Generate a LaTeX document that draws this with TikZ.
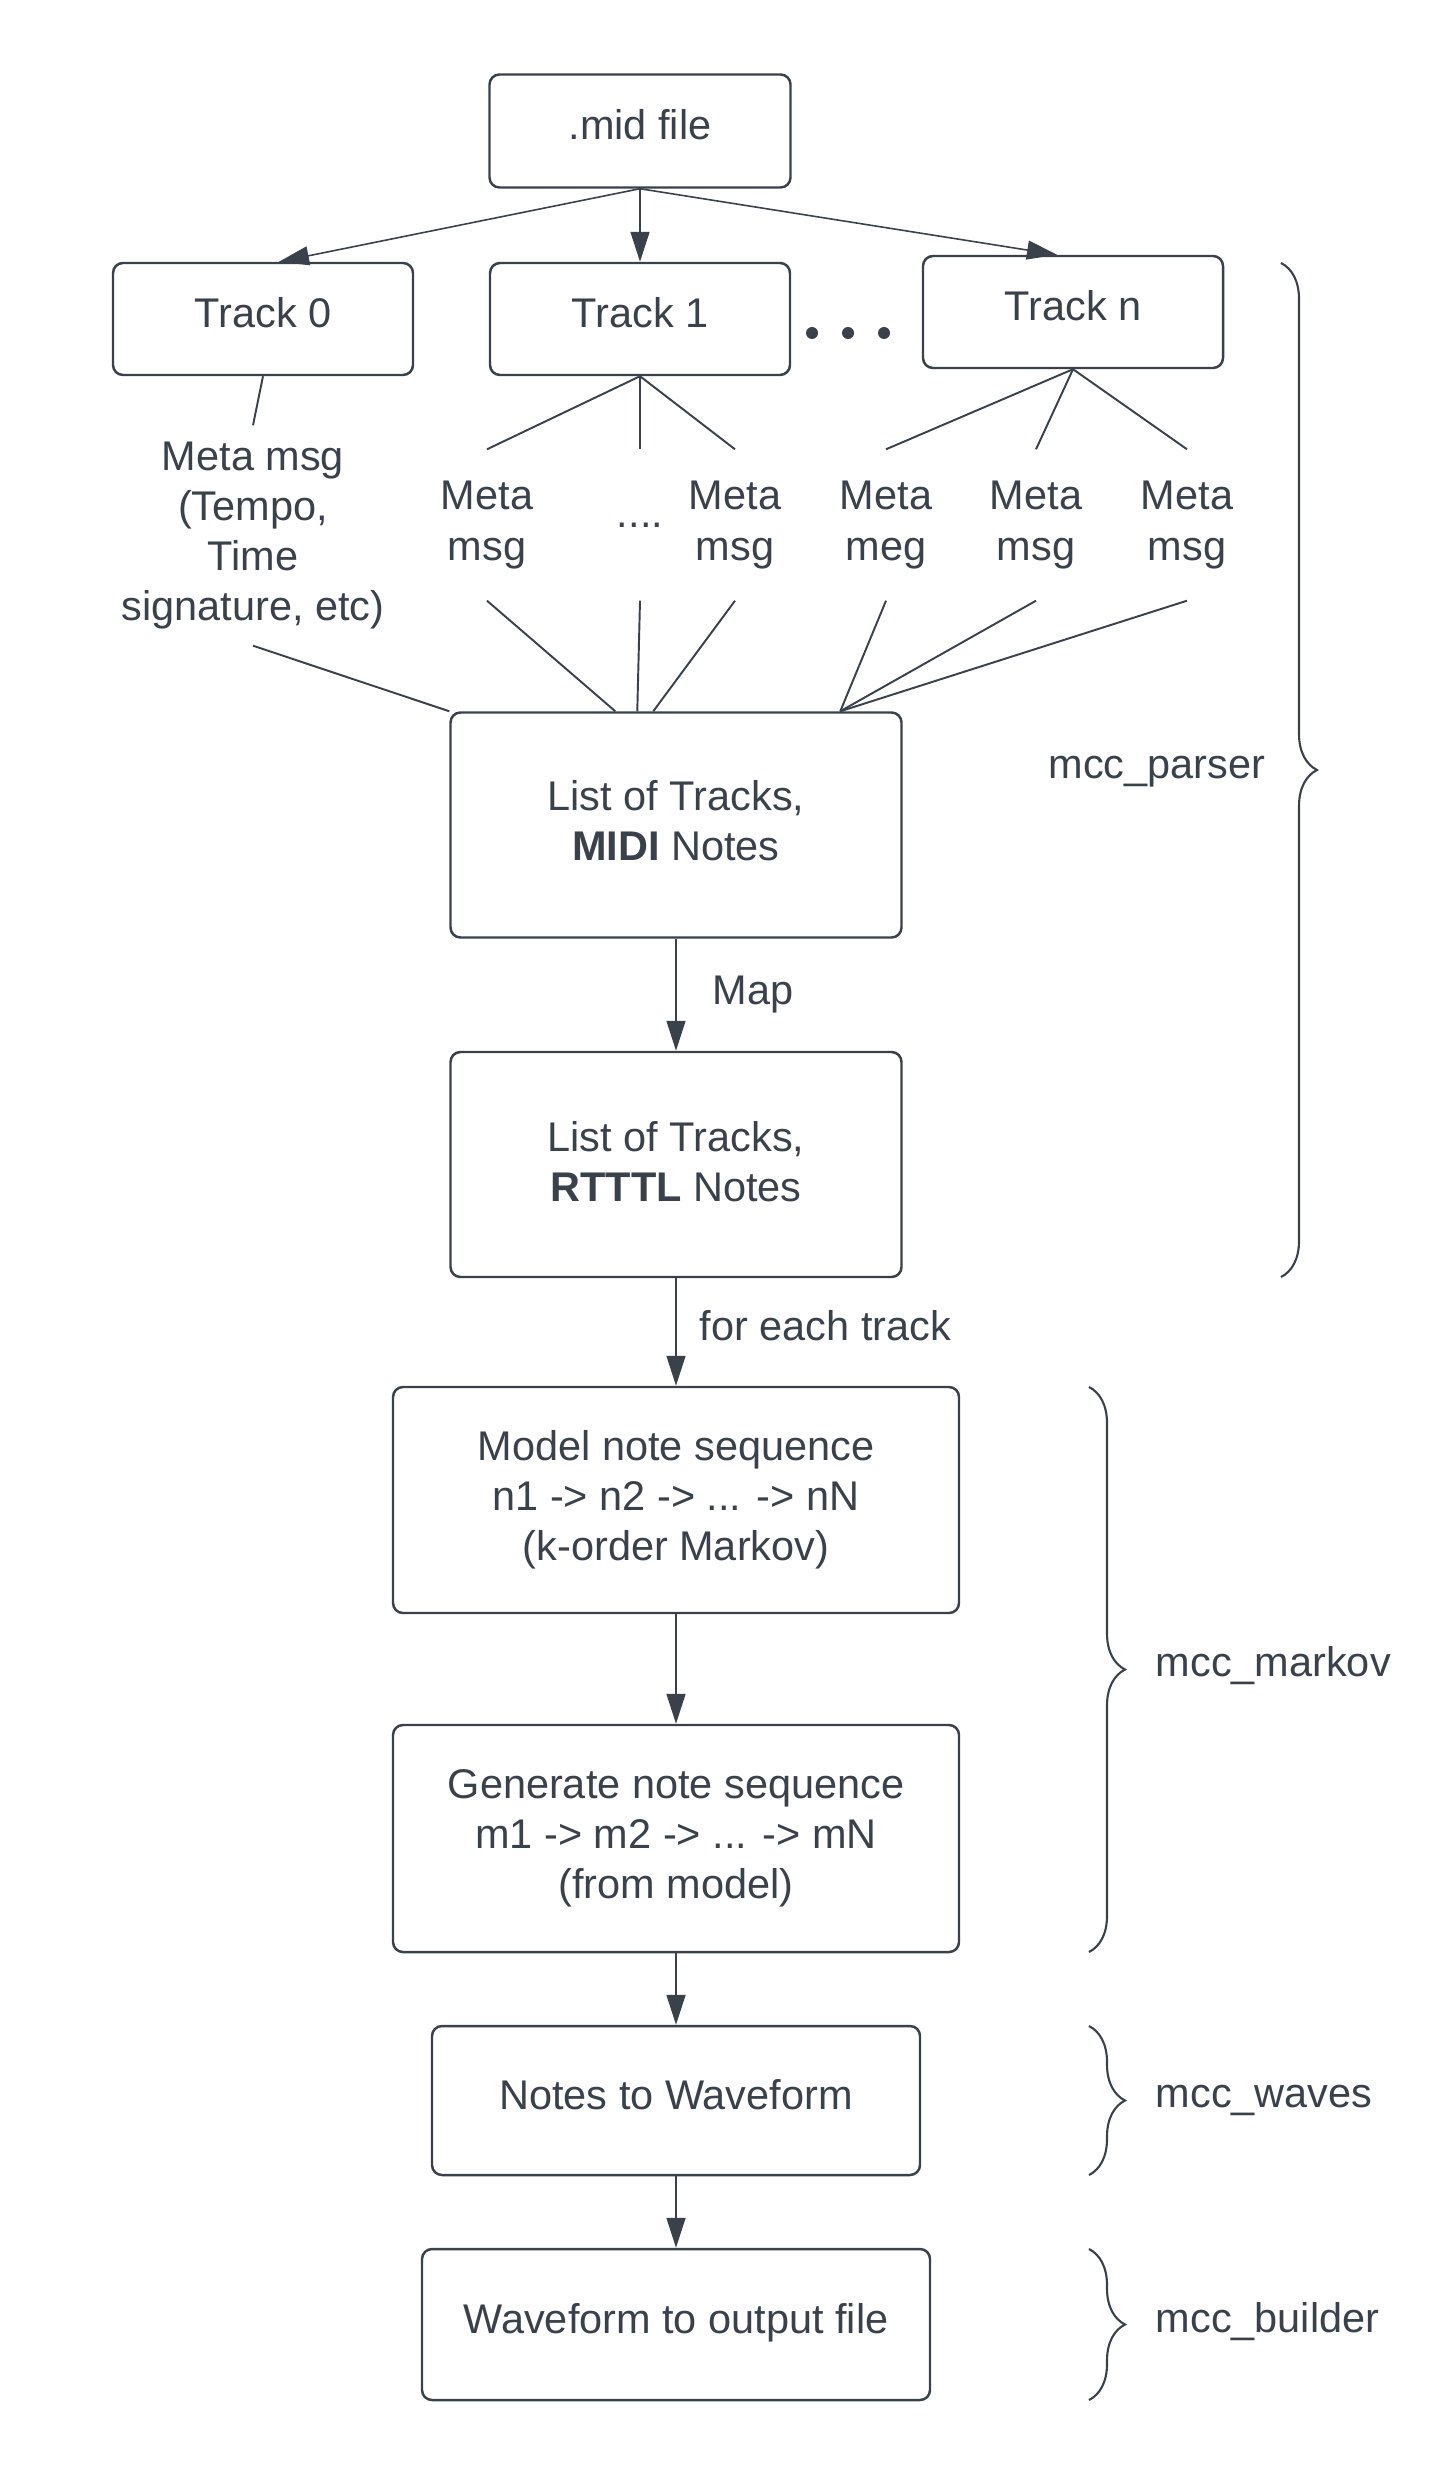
\documentclass[tikz,border=0pt]{standalone}
\usepackage{fontspec}
\setmainfont{Liberation Sans}
\usetikzlibrary{arrows.meta,decorations.pathreplacing}
\definecolor{ink}{HTML}{3A414A}

\begin{document}
\begin{tikzpicture}[every node/.style={inner sep=0pt, text=ink, align=center, font=\fontsize{11.8}{14.3}\selectfont},
	box/.style={draw=ink, line width=0.7pt, rounded corners=0.1cm,
		execute at begin node={\rule{0pt}{0.376cm}}, execute at end node={\rule[-#1]{0pt}{0pt}}},
	box/.default=0.198cm,
	arr/.style={draw=ink, line width=0.45pt, -{Triangle[length=0.30cm,width=0.19cm]}},
	fan/.style={draw=ink, line width=0.55pt},
	grp/.style={draw=ink, line width=0.6pt, decorate, decoration={brace, amplitude=0.36cm}}]
			\useasboundingbox (0,0) rectangle (14.53,-24.75);
			
			\node[box, minimum width=3.01cm, minimum height=1.13cm] (mid) at (6.40,-1.31) {.mid file};
			\node[box, minimum width=3.00cm, minimum height=1.12cm] (t0) at (2.63,-3.19) {Track 0};
			\node[box, minimum width=3.00cm, minimum height=1.12cm] (t1) at (6.40,-3.19) {Track 1};
			\node[box, minimum width=3.00cm, minimum height=1.12cm] (tn) at (10.73,-3.12) {Track n};
			\foreach \x in {8.12,8.48,8.84}
			\fill[ink] (\x,-3.33) circle (0.06);
			
			% meta messages
			\node[minimum height=2.19cm] (m0) at (2.53,-5.355) {Meta msg\\(Tempo,\\Time\\signature, etc)};
			\node[minimum height=1.5cm] (m1) at (4.87,-5.25) {Meta\\msg};
			\node[minimum height=1.5cm] (m2) at (6.40,-5.25) {....};
			\node[minimum height=1.5cm] (m3) at (7.35,-5.25) {Meta\\msg};
			\node[minimum height=1.5cm] (m4) at (8.86,-5.25) {Meta\\meg};
			\node[minimum height=1.5cm] (m5) at (10.36,-5.25) {Meta\\msg};
			\node[minimum height=1.5cm] (m6) at (11.87,-5.25) {Meta\\msg};
			
			\node[box=0.09cm, minimum width=4.51cm, minimum height=2.25cm] (midi) at (6.76,-8.25) {List of Tracks,\\\textbf{MIDI} Notes};
			\node[box=0.06cm, minimum width=4.51cm, minimum height=2.25cm] (rtttl) at (6.76,-11.645) {List of Tracks,\\\textbf{RTTTL} Notes};
			\node[box=0.09cm, minimum width=5.66cm, minimum height=2.26cm] (model) at (6.76,-15.00) {Model note sequence\\n1 -> n2 -> ... -> nN\\(k-order Markov)};
			\node[box=0.09cm, minimum width=5.66cm, minimum height=2.27cm] (gen) at (6.76,-18.385) {Generate note sequence\\m1 -> m2 -> ... -> mN\\(from model)};
			\node[box, minimum width=4.88cm, minimum height=1.49cm] (waves) at (6.76,-21.005) {Notes to Waveform};
			\node[box, minimum width=5.08cm, minimum height=1.51cm] (build) at (6.76,-23.245) {Waveform to output file};
			
			\draw[arr] (mid.south) -- ([xshift=0.16cm]t0.north);
			\draw[arr] (mid.south) -- (t1.north);
			\draw[arr] (mid.south) -- ([xshift=-0.16cm]tn.north);
			
			\foreach \from/\to in {t0/m0,t1/m1,t1/m2,t1/m3,tn/m4,tn/m5,tn/m6}
			\draw[fan] (\from.south) -- (\to.north);
			\foreach \from/\dx in {m0/0,m1/1.66,m2/1.88,m3/2.04,m4/3.91,m5/3.91,m6/3.91}
			\draw[fan] (\from.south) -- ([xshift=\dx cm]midi.north west);
			
			\draw[arr] (midi) -- node[anchor=west, xshift=0.36cm] (map) {Map} (rtttl);
			\draw[arr] (rtttl) -- node[anchor=west, xshift=0.23cm, yshift=0.06cm] (each) {for each track} (model);
			\foreach \from/\to in {model/gen,gen/waves,waves/build}
			\draw[arr] (\from) -- (\to);
			
			% module braces
			\coordinate (pa) at (12.81,-2.63);
			\coordinate (pb) at (12.81,-12.77);
			\coordinate (ka) at (10.89,-13.87);
			\coordinate (kb) at (10.89,-19.52);
			\coordinate (wa) at (10.89,-20.26);
			\coordinate (wb) at (10.89,-21.75);
			\coordinate (ba) at (10.89,-22.49);
			\coordinate (bb) at (10.89,-24.00);
			\foreach \from/\to in {pa/pb,ka/kb,wa/wb,ba/bb}
			\draw[grp] (\from) -- (\to);
			\node[anchor=east] (parser) at (12.66,-7.72) {mcc\_parser};
			\node[anchor=west] (markov) at (11.55,-16.66) {mcc\_markov};
			\node[anchor=west] (wav) at (11.55,-21.0) {mcc\_waves};
			\node[anchor=west] (builder) at (11.55,-23.22) {mcc\_builder};
			\end{tikzpicture}
\end{document}
